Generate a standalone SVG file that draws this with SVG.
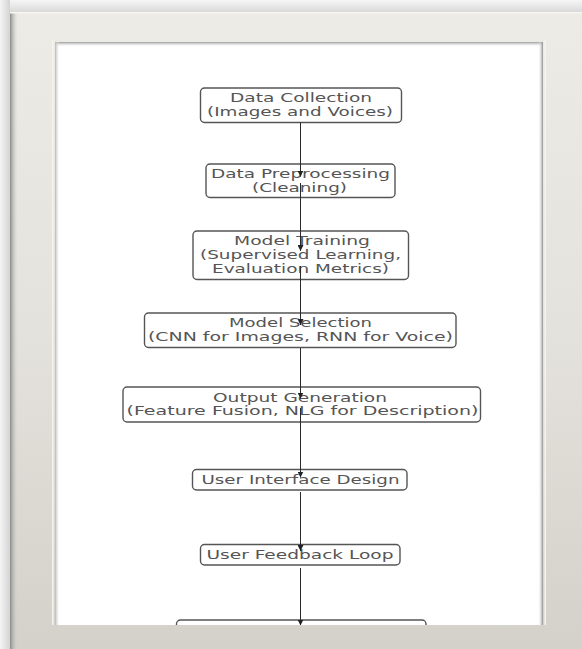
<svg xmlns="http://www.w3.org/2000/svg" width="582" height="649" viewBox="0 0 582 649">
<defs>
  <linearGradient id="frameV" x1="0" y1="12" x2="0" y2="649" gradientUnits="userSpaceOnUse">
    <stop offset="0" stop-color="#edebe6"/>
    <stop offset="0.5" stop-color="#e4e2dc"/>
    <stop offset="1" stop-color="#d3d1ca"/>
  </linearGradient>
  <linearGradient id="leftEdge" x1="10" y1="0" x2="18" y2="0" gradientUnits="userSpaceOnUse">
    <stop offset="0" stop-color="#8c8c8a"/>
    <stop offset="1" stop-color="#d8d6d0" stop-opacity="0"/>
  </linearGradient>
  <linearGradient id="bgTop" x1="0" y1="0" x2="0" y2="12" gradientUnits="userSpaceOnUse">
    <stop offset="0" stop-color="#f6f6f6"/>
    <stop offset="1" stop-color="#d9d9d9"/>
  </linearGradient>
  <linearGradient id="bgLeft" x1="0" y1="0" x2="10" y2="0" gradientUnits="userSpaceOnUse">
    <stop offset="0" stop-color="#f4f4f4"/>
    <stop offset="1" stop-color="#d4d4d4"/>
  </linearGradient>
  <linearGradient id="inTop" x1="0" y1="42" x2="0" y2="47" gradientUnits="userSpaceOnUse">
    <stop offset="0" stop-color="#9a9a9a"/>
    <stop offset="1" stop-color="#ffffff" stop-opacity="0"/>
  </linearGradient>
  <linearGradient id="inLeft" x1="55" y1="0" x2="60" y2="0" gradientUnits="userSpaceOnUse">
    <stop offset="0" stop-color="#b5b5b5"/>
    <stop offset="1" stop-color="#ffffff" stop-opacity="0"/>
  </linearGradient>
  <linearGradient id="inRight" x1="538" y1="0" x2="543" y2="0" gradientUnits="userSpaceOnUse">
    <stop offset="0" stop-color="#ffffff" stop-opacity="0"/>
    <stop offset="1" stop-color="#8f8f8f"/>
  </linearGradient>
  <marker id="arr" viewBox="0 0 6 6" refX="6" refY="3" markerWidth="6" markerHeight="6" markerUnits="userSpaceOnUse" orient="auto">
    <path d="M0,0 L6,3 L0,6 z" fill="#222"/>
  </marker>
</defs>
<style>
  .box { fill: #ffffff; stroke: #555555; stroke-width: 1.4; }
  .lbl { font-family: "DejaVu Sans", "Liberation Sans", sans-serif; font-size: 11.5px; fill: #555555; }
  .edge { stroke: #2a2a2a; stroke-width: 1; fill: none; marker-end: url(#arr); }
</style>

<!-- background -->
<rect x="0" y="0" width="582" height="649" fill="#e2e2e2"/>
<rect x="0" y="0" width="582" height="12" fill="url(#bgTop)"/>
<rect x="0" y="0" width="10" height="649" fill="url(#bgLeft)"/>

<!-- inner white panel -->
<rect x="55" y="42" width="488" height="590" fill="#ffffff"/>
<rect x="55" y="42" width="488" height="5" fill="url(#inTop)"/>
<rect x="55" y="42" width="5" height="585" fill="url(#inLeft)"/>
<rect x="538" y="42" width="5" height="585" fill="url(#inRight)"/>

<g id="nodes">
  <g id="n1">
    <rect class="box" x="200.5" y="88" width="201" height="34.5" rx="4"/>
    <text class="lbl" x="230" y="102" textLength="142" lengthAdjust="spacingAndGlyphs">Data Collection</text>
    <text class="lbl" x="207" y="115.5" textLength="186" lengthAdjust="spacingAndGlyphs">(Images and Voices)</text>
  </g>
  <g id="n2">
    <rect class="box" x="206" y="164" width="189" height="33.5" rx="4"/>
    <text class="lbl" x="211" y="178" textLength="179" lengthAdjust="spacingAndGlyphs">Data Preprocessing</text>
    <text class="lbl" x="252" y="191.5" textLength="95" lengthAdjust="spacingAndGlyphs">(Cleaning)</text>
  </g>
  <g id="n3">
    <rect class="box" x="193" y="231" width="215.5" height="48.5" rx="4"/>
    <text class="lbl" x="234" y="244.5" textLength="136" lengthAdjust="spacingAndGlyphs">Model Training</text>
    <text class="lbl" x="200" y="258.5" textLength="201" lengthAdjust="spacingAndGlyphs">(Supervised Learning,</text>
    <text class="lbl" x="212" y="272.5" textLength="177" lengthAdjust="spacingAndGlyphs">Evaluation Metrics)</text>
  </g>
  <g id="n4">
    <rect class="box" x="144.5" y="313" width="311.5" height="34.5" rx="4"/>
    <text class="lbl" x="229" y="327" textLength="143" lengthAdjust="spacingAndGlyphs">Model Selection</text>
    <text class="lbl" x="148" y="340.5" textLength="305" lengthAdjust="spacingAndGlyphs">(CNN for Images, RNN for Voice)</text>
  </g>
  <g id="n5">
    <rect class="box" x="123" y="387" width="357.5" height="35" rx="4"/>
    <text class="lbl" x="213" y="401.5" textLength="174" lengthAdjust="spacingAndGlyphs">Output Generation</text>
    <text class="lbl" x="126.5" y="415" textLength="352" lengthAdjust="spacingAndGlyphs">(Feature Fusion, NLG for Description)</text>
  </g>
  <g id="n6">
    <rect class="box" x="192.5" y="469.5" width="214.5" height="20.5" rx="4"/>
    <text class="lbl" x="201.5" y="484" textLength="198" lengthAdjust="spacingAndGlyphs">User Interface Design</text>
  </g>
  <g id="n7">
    <rect class="box" x="200.5" y="544.5" width="199.5" height="20.5" rx="4"/>
    <text class="lbl" x="206.5" y="559" textLength="187" lengthAdjust="spacingAndGlyphs">User Feedback Loop</text>
  </g>
  <g id="n8">
    <rect class="box" x="176.5" y="620" width="249.5" height="34" rx="4"/>
  </g>
</g>

<g id="connectors">
  <line class="edge" x1="300.5" y1="122.5" x2="300.5" y2="176.5"/>
  <line class="edge" x1="300.5" y1="183" x2="300.5" y2="251"/>
  <line class="edge" x1="300.5" y1="266" x2="300.5" y2="325"/>
  <line class="edge" x1="300.5" y1="348" x2="300.5" y2="398.5"/>
  <line class="edge" x1="300.5" y1="408" x2="300.5" y2="477.5"/>
  <line class="edge" x1="300.5" y1="492" x2="300.5" y2="551"/>
  <line class="edge" x1="300.5" y1="568" x2="300.5" y2="625.5"/>
</g>

<!-- frame (drawn over, hides the lower part of the last node) -->
<path d="M10,12 H582 V649 H10 Z M55,42 V625 H543 V42 Z" fill="url(#frameV)" fill-rule="evenodd"/>
<rect x="10" y="12" width="8" height="637" fill="url(#leftEdge)"/>
<rect x="10" y="12" width="572" height="1.5" fill="#f7f6f2"/>
<rect x="52" y="40" width="1.5" height="585" fill="#f4f3ee"/>
<rect x="544.5" y="40" width="1.5" height="585" fill="#f4f3ee"/>
</svg>
